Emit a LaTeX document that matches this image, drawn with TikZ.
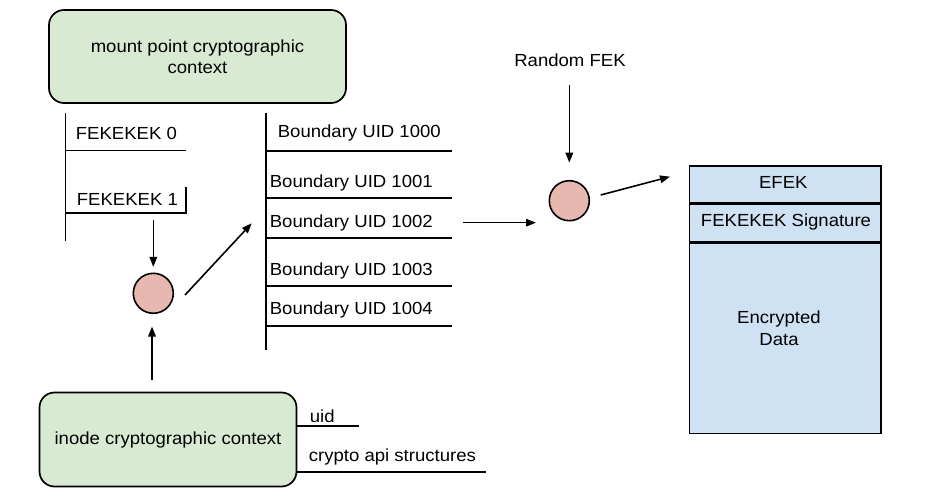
\documentclass[tikz,border=0pt]{standalone}
\usepackage{fontspec}
\setmainfont[FakeStretch=1.06]{Liberation Sans}
\usetikzlibrary{arrows.meta}
\definecolor{greenfill}{HTML}{D9EAD3}
\definecolor{pinkfill}{HTML}{E6B8AF}
\definecolor{bluefill}{HTML}{CFE2F3}
\begin{document}
\begin{tikzpicture}[x=1pt,y=-1pt,line width=1.7pt,
  font=\fontsize{17.5}{21.5}\selectfont,
  greenbox/.style={draw,fill=greenfill,rounded corners=15pt,line width=1.7pt,align=center,inner sep=0pt},
  bluebox/.style={draw,fill=bluefill,line width=1.6pt,inner sep=0pt,anchor=north west,minimum width=191.5},
  keycircle/.style={draw,fill=pinkfill,circle,minimum size=40,inner sep=0pt,line width=1.6pt},
  lbl/.style={inner sep=0pt,anchor=west},
  arr/.style={-{Triangle[length=10pt,width=7.5pt]},line width=1.6pt}]
\useasboundingbox (0,0) rectangle (942,494);

% mount point context
\node[greenbox,minimum width=297,minimum height=93] (mount) at (197.5,56.5) {mount point cryptographic\\context};

% FEKEKEK bracket
\coordinate (fTop) at (65.5,113);
\coordinate (fBot) at (65.5,241);
\coordinate (f0L) at (65.5,150.5);
\coordinate (f0R) at (186,150.5);
\coordinate (f1L) at (65.5,213);
\coordinate (f1R) at (186,213);
\coordinate (f1T) at (186,187);
\draw (fTop) -- (fBot);
\draw (f0L) -- (f0R);
\draw (f1L) -- (f1R) -- (f1T);
\node[lbl] (f0) at (75,133) {FEKEKEK 0};
\node[lbl] (f1) at (76,199.5) {FEKEKEK 1};

% circle 1
\node[keycircle] (c1) at (153.3,293.3) {};
\coordinate (a1s) at (153.3,220);
\coordinate (a1e) at (153.3,267);
\draw[arr] (a1s) -- (a1e);

% inode context
\node[greenbox,minimum width=257,minimum height=94] (inode) at (168,439.5) {inode cryptographic context};
\coordinate (a2s) at (152,380);
\coordinate (a2e) at (152,326.5);
\draw[arr] (a2s) -- (a2e);
\coordinate (uidL) at (296.5,425.7);
\coordinate (uidR) at (358.5,425.7);
\draw (uidL) -- (uidR);
\node[lbl] (uid) at (309,416.5) {uid};
\coordinate (capL) at (296.5,471.7);
\coordinate (capR) at (486,471.7);
\draw (capL) -- (capR);
\node[lbl] (capi) at (308,456.5) {crypto api structures};

% arrow c1 -> boundary
\coordinate (a3s) at (185,295);
\coordinate (a3e) at (251.7,223.3);
\draw[arr] (a3s) -- (a3e);

% boundary list
\coordinate (bTop) at (266,113);
\coordinate (bBot) at (266,350);
\draw (bTop) -- (bBot);
\foreach \yy/\nm in {150.7/b0,198.3/b1,237.7/b2,286/b3,326/b4}{
  \coordinate (\nm L) at (266,\yy);
  \coordinate (\nm R) at (452,\yy);
  \draw (\nm L) -- (\nm R);
}
\node[lbl] (u1000) at (277,133) {Boundary UID 1000};
\node[lbl] (u1001) at (269,182.7) {Boundary UID 1001};
\node[lbl] (u1002) at (269,223.3) {Boundary UID 1002};
\node[lbl] (u1003) at (269,270.7) {Boundary UID 1003};
\node[lbl] (u1004) at (269,310) {Boundary UID 1004};

% circle 2
\node[keycircle] (c2) at (569.3,200.7) {};
\node (rfek) at (570,60.7) {Random FEK};
\coordinate (a4s) at (569.3,85);
\coordinate (a4e) at (569.3,162.7);
\draw[arr] (a4s) -- (a4e);
\coordinate (a5s) at (463,222.7);
\coordinate (a5e) at (536,222.7);
\draw[arr] (a5s) -- (a5e);
\coordinate (a6s) at (600.7,195);
\coordinate (a6e) at (670,176.7);
\draw[arr] (a6s) -- (a6e);

% file structure
\node[bluebox,minimum height=37.3] (efek) at (688.5,165) {};
\node[bluebox,minimum height=37] (sig) at (efek.south west) {};
\node[bluebox,minimum height=190] (data) at (sig.south west) {};
\node (efekt) at (783.3,182) {EFEK};
\node (sigt) at (786,221.7) {FEKEKEK Signature};
\node[align=center] (datat) at (779,328) {Encrypted\\Data};
\end{tikzpicture}
\end{document}
